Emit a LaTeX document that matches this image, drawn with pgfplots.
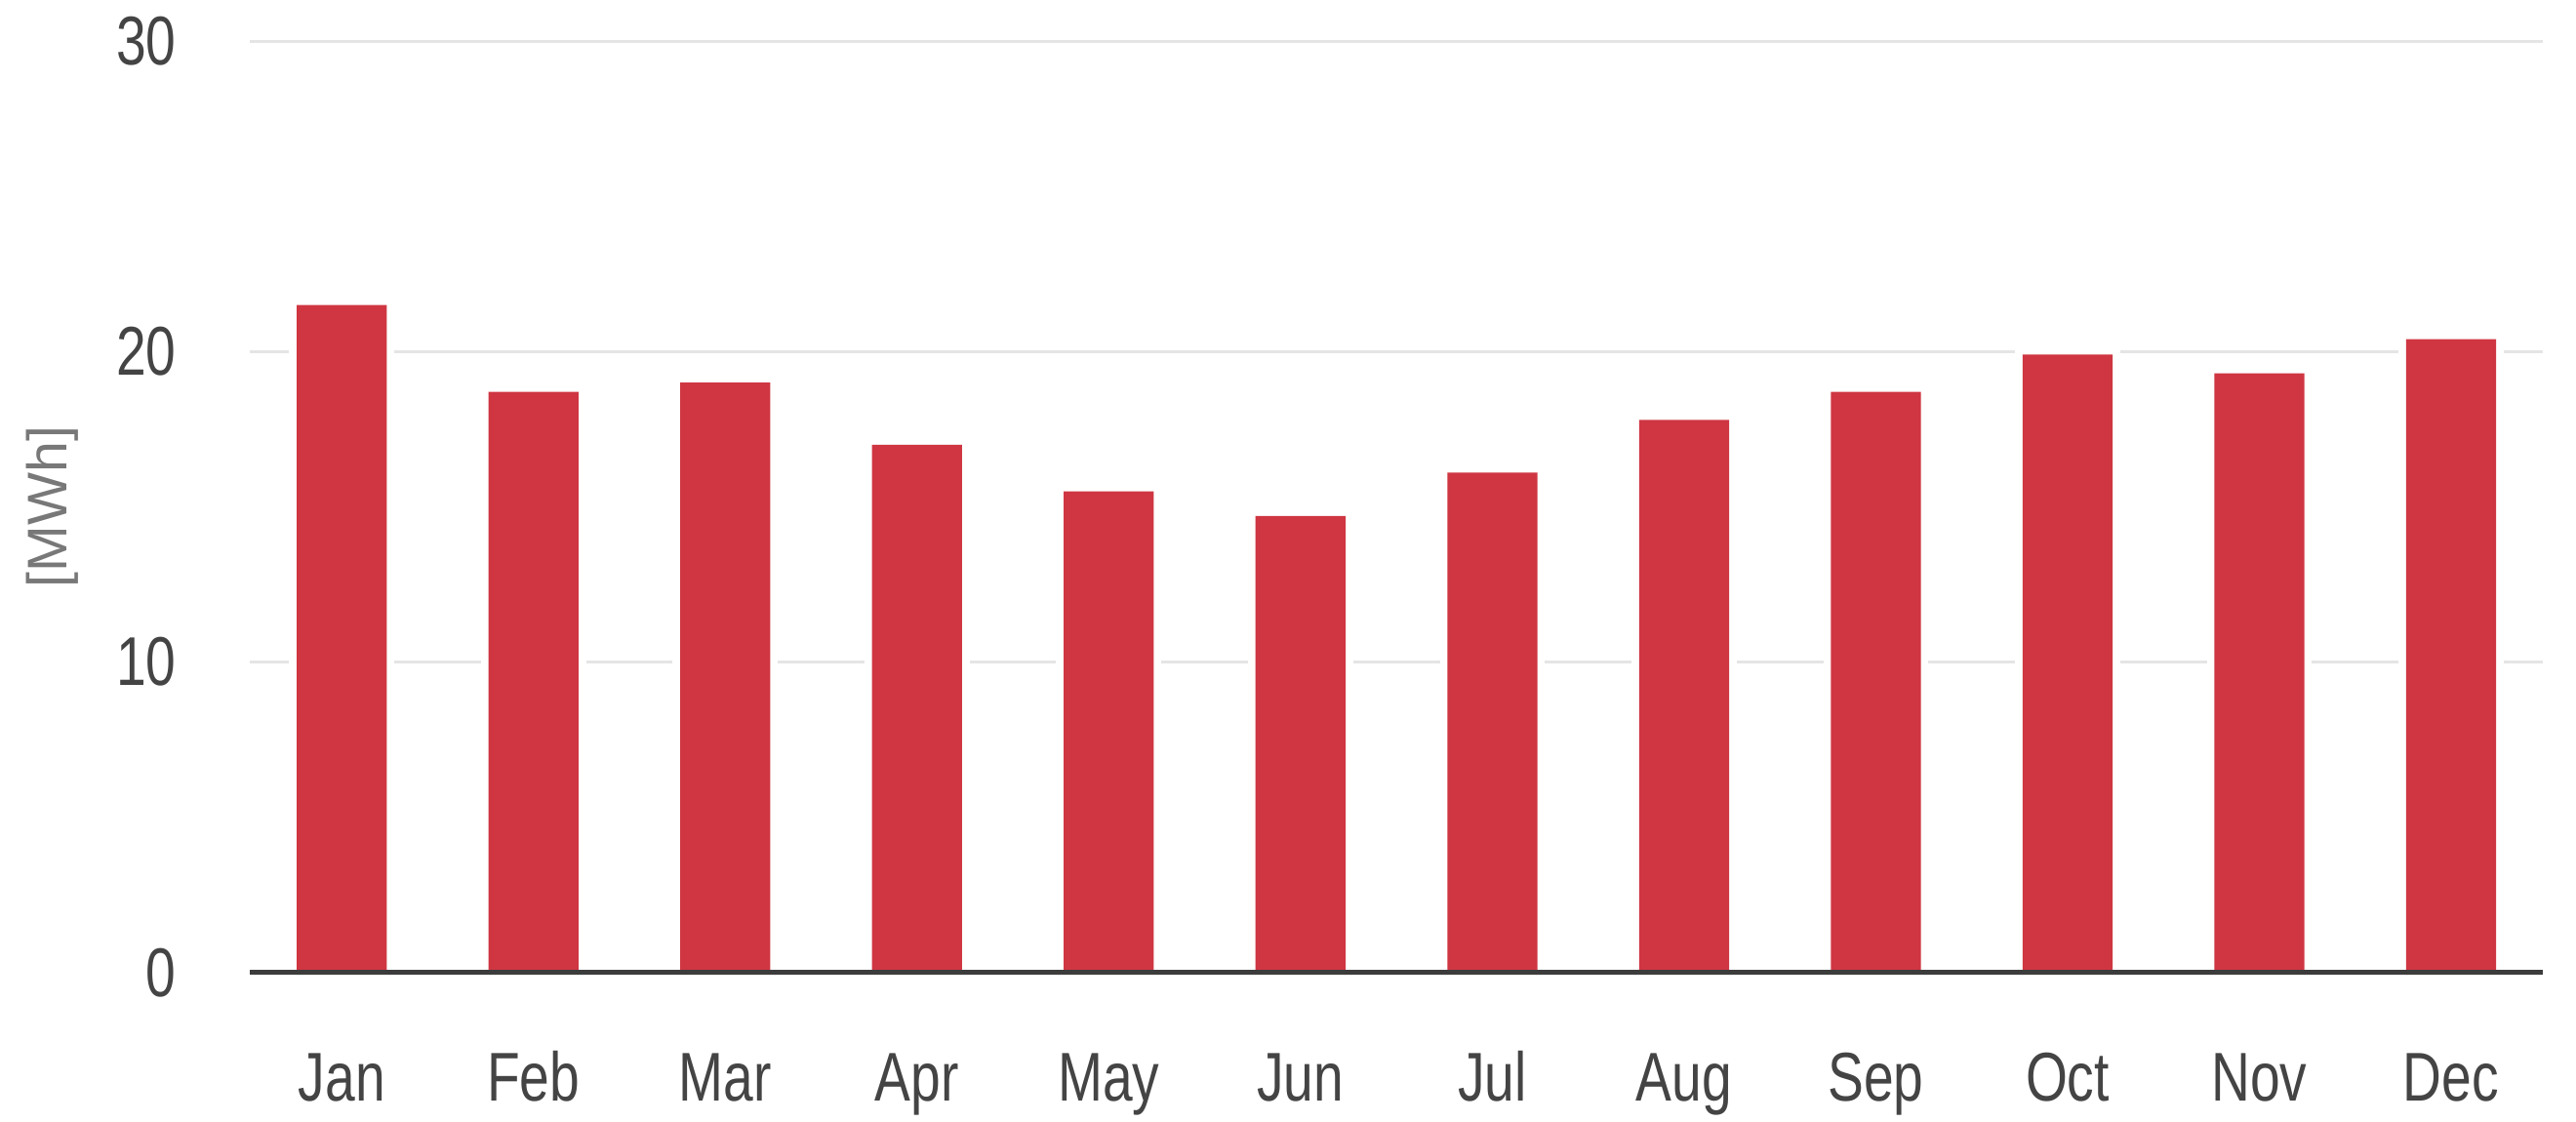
\documentclass[border=0pt]{standalone}
\usepackage{fontspec}
\setmainfont{Liberation Sans}
\usepackage{graphicx}
\usepackage{pgfplots}
\pgfplotsset{compat=1.18}
\definecolor{barred}{RGB}{207,54,66}
\definecolor{gridgray}{RGB}{229,229,229}
\definecolor{ticktext}{RGB}{68,68,68}
\definecolor{labeltext}{RGB}{120,120,120}
\definecolor{zeroline}{RGB}{60,60,60}
% the source chart is squeezed sideways, so squeeze the text too
\newcommand\sq[1]{\scalebox{0.78}[1]{#1}}

\pgfplotstableread{
m  v
0  21.5
1  18.7
2  19.0
3  17.0
4  15.5
5  14.7
6  16.1
7  17.8
8  18.7
9  19.9
10 19.3
11 20.4
}\energy

\begin{document}
\begin{tikzpicture}
\begin{axis}[
  scale only axis,
  width=349pt, height=141.75pt,
  xmin=-0.48, xmax=11.48,
  ymin=0, ymax=30,
  xtick={0,...,11},
  xticklabels={\sq{Jan},\sq{Feb},\sq{Mar},\sq{Apr},\sq{May},\sq{Jun},\sq{Jul},\sq{Aug},\sq{Sep},\sq{Oct},\sq{Nov},\sq{Dec}},
  ytick={0,10,20,30},
  yticklabels={\sq{0},\sq{10},\sq{20},\sq{30}},
  major tick length=0pt,
  axis line style={draw=none},
  ymajorgrids,
  grid style={gridgray, line width=0.45pt},
  tick label style={font=\fontsize{10.5}{12}\selectfont, text=ticktext},
  yticklabel style={anchor=east, inner sep=0pt, xshift=-11pt},
  xticklabel style={anchor=base, inner sep=0pt, yshift=-19.5pt},
  ylabel={[MWh]},
  every axis y label/.style={at={(rel axis cs:0,0.5)}, rotate=90, anchor=center,
    yshift=30pt, font=\fontsize{8.5}{10}\selectfont, text=labeltext},
  clip=false,
]
% white halo round each bar, then the bar itself
\addplot[ybar, bar shift=0pt, bar width=13.7pt, fill=white, draw=white, line width=2.3pt]
  table[x=m, y=v] {\energy};
\addplot[ybar, bar shift=0pt, bar width=13.7pt, fill=barred, draw=none]
  table[x=m, y=v] {\energy};
\draw[zeroline, line width=0.7pt] (rel axis cs:0,0) -- (rel axis cs:1,0);
\end{axis}
\pgfresetboundingbox
\path ([shift={(-38pt,-22.75pt)}]current axis.south west)
  rectangle ([shift={(5pt,6.25pt)}]current axis.north east);
\end{tikzpicture}
\end{document}
